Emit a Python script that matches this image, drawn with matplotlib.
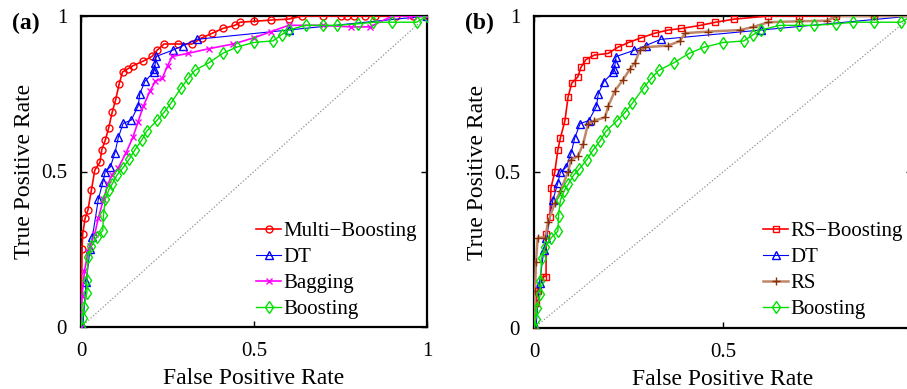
import matplotlib
matplotlib.use("Agg")
import matplotlib.pyplot as plt

plt.rcParams['font.family'] = ['Liberation Serif', 'DejaVu Serif']

# ---- data ----
mb_fpr = [0, 0.003, 0.005, 0.012, 0.02, 0.03, 0.04, 0.055, 0.06, 0.07, 0.08, 0.09, 0.10,
          0.11, 0.12, 0.135, 0.15, 0.18, 0.205, 0.22, 0.24, 0.28, 0.32, 0.35, 0.38, 0.41,
          0.445, 0.46, 0.50, 0.55, 0.60, 0.64, 0.70, 0.75, 0.77, 0.79, 0.82, 0.85, 0.91,
          0.96, 1.0]
mb_tpr = [0, 0.25, 0.30, 0.35, 0.376, 0.44, 0.505, 0.53, 0.57, 0.60, 0.64, 0.69, 0.73,
          0.78, 0.82, 0.83, 0.84, 0.855, 0.87, 0.89, 0.91, 0.91, 0.91, 0.93, 0.945, 0.96,
          0.97, 0.98, 0.983, 0.987, 0.99, 1.0, 1.0, 1.0, 1.0, 1.0, 1.0, 1.0, 1.0,
          1.0, 1.0]

dt_fpr = [0, 0.005, 0.015, 0.026, 0.033, 0.05, 0.063, 0.07, 0.085, 0.098, 0.108, 0.122,
          0.145, 0.165, 0.17, 0.185, 0.21, 0.212, 0.215, 0.217, 0.265, 0.295, 0.335,
          0.60, 1.0]
dt_tpr = [0, 0.0, 0.145, 0.25, 0.29, 0.41, 0.465, 0.50, 0.515, 0.56, 0.61, 0.655,
          0.665, 0.71, 0.75, 0.79, 0.82, 0.83, 0.85, 0.87, 0.89, 0.905, 0.925,
          0.955, 1.0]

bg_fpr = [0, 0.003, 0.01, 0.02, 0.026, 0.04, 0.05, 0.065, 0.078, 0.09, 0.107, 0.13,
          0.15, 0.165, 0.18, 0.20, 0.215, 0.235, 0.25, 0.264, 0.31, 0.37, 0.44, 0.50,
          0.55, 0.60, 0.70, 0.78, 0.835, 0.90, 0.95, 1.0]
bg_tpr = [0, 0.10, 0.18, 0.24, 0.26, 0.30, 0.35, 0.41, 0.46, 0.49, 0.51, 0.56,
          0.61, 0.66, 0.71, 0.76, 0.79, 0.80, 0.84, 0.87, 0.88, 0.895, 0.91, 0.93,
          0.95, 0.97, 0.97, 0.965, 0.965, 1.0, 1.0, 1.0]

bo_fpr = [0, 0.005, 0.008, 0.017, 0.017, 0.02, 0.03, 0.046, 0.063, 0.065, 0.07, 0.08,
          0.09, 0.105, 0.12, 0.14, 0.156, 0.175, 0.19, 0.22, 0.24, 0.26, 0.29, 0.31,
          0.33, 0.37, 0.41, 0.45, 0.50, 0.555, 0.58, 0.60, 0.65, 0.70, 0.74, 0.80,
          0.845, 0.90, 0.97, 1.0]
bo_tpr = [0, 0.03, 0.065, 0.11, 0.15, 0.225, 0.26, 0.29, 0.31, 0.36, 0.41, 0.44,
          0.46, 0.49, 0.51, 0.54, 0.57, 0.60, 0.63, 0.665, 0.69, 0.72, 0.77, 0.80,
          0.826, 0.85, 0.88, 0.90, 0.915, 0.92, 0.94, 0.955, 0.97, 0.97, 0.97, 0.975,
          0.98, 0.98, 0.98, 1.0]

rsb_fpr = [0, 0.005, 0.01, 0.024, 0.032, 0.032, 0.042, 0.045, 0.055, 0.063, 0.07, 0.082,
           0.09, 0.10, 0.116, 0.124, 0.137, 0.16, 0.196, 0.222, 0.25, 0.283, 0.32, 0.355,
           0.39, 0.44, 0.48, 0.53, 0.62, 0.70, 0.80, 0.90, 1.0]
rsb_tpr = [0, 0.08, 0.12, 0.165, 0.165, 0.30, 0.355, 0.45, 0.50, 0.57, 0.61, 0.665,
           0.74, 0.785, 0.805, 0.835, 0.86, 0.875, 0.88, 0.90, 0.915, 0.93, 0.945, 0.955,
           0.96, 0.97, 0.98, 0.99, 1.0, 1.0, 1.0, 1.0, 1.0]

rs_fpr = [0, 0.003, 0.005, 0.01, 0.03, 0.037, 0.055, 0.07, 0.09, 0.098, 0.116, 0.13,
          0.143, 0.16, 0.188, 0.196, 0.214, 0.235, 0.254, 0.267, 0.28, 0.294, 0.355,
          0.386, 0.40, 0.46, 0.545, 0.58, 0.62, 0.70, 0.775, 0.80, 0.90, 1.0]
rs_tpr = [0, 0.12, 0.21, 0.29, 0.29, 0.34, 0.40, 0.44, 0.50, 0.54, 0.55, 0.59,
          0.655, 0.665, 0.675, 0.71, 0.76, 0.795, 0.83, 0.85, 0.89, 0.90, 0.905,
          0.92, 0.945, 0.95, 0.955, 0.965, 0.98, 0.983, 0.985, 1.0, 1.0, 1.0]

labels_a = ['Multi\u2212Boosting', 'DT', 'Bagging', 'Boosting']
labels_b = ['RS\u2212Boosting', 'DT', 'RS', 'Boosting']
ticks = [0, 0.5, 1]
tick_labels = ['0', '0.5', '1']
xtick_labels_b = ['0', '0.5', '']

W, H = 907, 389
fig = plt.figure(figsize=(W / 100, H / 100), dpi=100)
ax1 = fig.add_axes([81 / W, (H - 327) / H, 346 / W, 311 / H])
ax2 = fig.add_axes([534 / W, (H - 328) / H, 378 / W, 312 / H])

GREEN = '#00e000'

def style(ax, xlabels):
    ax.plot([0, 1], [0, 1], linestyle=(0, (1, 1.6)), color='#909090', lw=0.9, zorder=1)
    ax.set_xlim(0, 1)
    ax.set_ylim(0, 1)
    ax.set_xticks(ticks)
    ax.set_xticklabels(xlabels)
    ax.set_yticks(ticks)
    ax.set_yticklabels(tick_labels)
    ax.tick_params(direction='in', length=4, width=1, top=True, right=True,
                   labelsize=15)
    ax.tick_params(axis='x', pad=11)
    ax.tick_params(axis='y', pad=10)
    for s in ax.spines.values():
        s.set_linewidth(1.6)
    ax.set_xlabel('False Positive Rate', fontsize=17, labelpad=5)
    ax.set_ylabel('True Positive Rate', fontsize=17, labelpad=4)

legend_kw = dict(loc='lower left', frameon=False, fontsize=15, handlelength=1.2,
                 handletextpad=0.1, labelspacing=0.3, borderpad=0, borderaxespad=0)

# Panel (a)
ax1.plot(mb_fpr, mb_tpr, color='red', lw=1.2, marker='o', ms=5, mfc='none', mew=1.0,
         label=labels_a[0], zorder=3)
ax1.plot(dt_fpr, dt_tpr, color='blue', lw=0.8, marker='^', ms=6, mfc='none', mew=1.0,
         label=labels_a[1], zorder=4)
ax1.plot(bg_fpr, bg_tpr, color='magenta', lw=1.2, marker='x', ms=4, mew=1.0,
         label=labels_a[2], zorder=5)
ax1.plot(bo_fpr, bo_tpr, color=GREEN, lw=1.0, marker='d', ms=6, mfc='none', mew=1.0,
         label=labels_a[3], zorder=6)
style(ax1, tick_labels)
ax1.legend(bbox_to_anchor=(0.506, 0.026), **legend_kw)

# Panel (b)
ax2.plot(rsb_fpr, rsb_tpr, color='red', lw=1.2, marker='s', ms=4, mfc='none', mew=1.0,
         label=labels_b[0], zorder=3)
ax2.plot(dt_fpr, dt_tpr, color='blue', lw=0.8, marker='^', ms=6, mfc='none', mew=1.0,
         label=labels_b[1], zorder=4)
ax2.plot(rs_fpr, rs_tpr, color='#c08868', lw=1.8, marker='+', ms=6, mec='#8b2f0a',
         mew=1.0, label=labels_b[2], zorder=5)
ax2.plot(bo_fpr, bo_tpr, color=GREEN, lw=1.0, marker='d', ms=6, mfc='none', mew=1.0,
         label=labels_b[3], zorder=6)
style(ax2, xtick_labels_b)
ax2.legend(bbox_to_anchor=(0.606, 0.029), **legend_kw)

fig.text(12 / W, 1 - 23 / H, '(a)', fontsize=17, fontweight='bold', va='center', ha='left')
fig.text(465 / W, 1 - 23 / H, '(b)', fontsize=17, fontweight='bold', va='center', ha='left')

fig.savefig('out.png', dpi=100)
